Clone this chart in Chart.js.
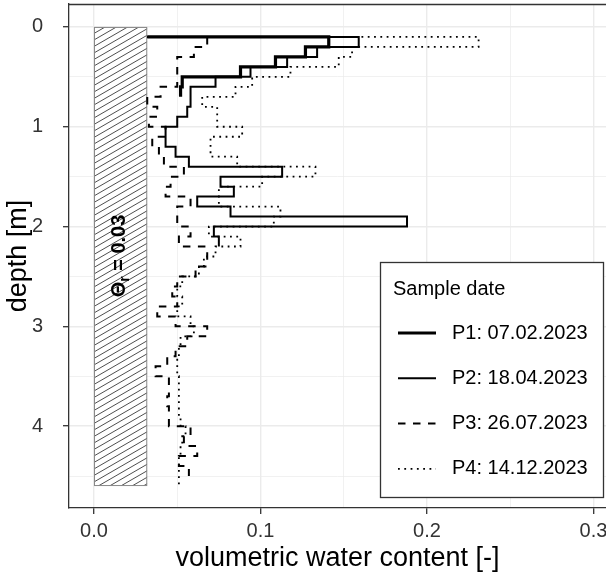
<!DOCTYPE html>
<html>
<head>
<meta charset="utf-8">
<script src="https://cdn.jsdelivr.net/npm/chart.js@4/dist/chart.umd.min.js"></script>
<style>
  html, body { margin: 0; padding: 0; background: #fff; overflow: hidden; }
</style>
</head>
<body>
<canvas id="profileChart" width="606" height="580"></canvas>
<script>
// sample names, legend order
const seriesNames = ['P1: 07.02.2023', 'P2: 18.04.2023', 'P3: 26.07.2023', 'P4: 14.12.2023'];

// every profile starts at 0.1 m, one value per 0.1 m layer
const startDepth = 0.1;
const layerStep = 0.1;

// residual water content (hatched band)
const thetaR = 0.032;
const thetaText = '0.03';
const bandDepth = 4.6;

const p1 = [0.141, 0.127, 0.109, 0.088, 0.053, 0.052];
const p2 = [0.159, 0.134, 0.116, 0.094, 0.073, 0.058, 0.058, 0.056, 0.050, 0.043,
            0.043, 0.049, 0.057, 0.113, 0.076, 0.084, 0.062, 0.082, 0.188, 0.072, 0.075];
const p3 = [0.068, 0.060, 0.050, 0.050, 0.050, 0.040, 0.032, 0.038, 0.033, 0.043,
            0.035, 0.039, 0.042, 0.054, 0.046, 0.043, 0.058, 0.050, 0.050, 0.058,
            0.051, 0.068, 0.068, 0.061, 0.050, 0.047, 0.050, 0.038, 0.049, 0.068,
            0.056, 0.049, 0.044, 0.037, 0.045, 0.045, 0.044, 0.045, 0.045, 0.058,
            0.054, 0.062, 0.051, 0.057];
const p4 = [0.231, 0.155, 0.147, 0.118, 0.095, 0.085, 0.065, 0.074, 0.074, 0.089,
            0.070, 0.070, 0.086, 0.133, 0.101, 0.075, 0.075, 0.112, 0.108, 0.069,
            0.088, 0.073, 0.066, 0.063, 0.053, 0.050, 0.053, 0.050, 0.058, 0.060,
            0.052, 0.051, 0.050, 0.050, 0.051, 0.051, 0.051, 0.051, 0.052, 0.055,
            0.053, 0.052, 0.051, 0.051, 0.051];

const xTicks = [0, 0.05, 0.1, 0.15, 0.2, 0.25, 0.3];
const yTicks = [0, 0.5, 1, 1.5, 2, 2.5, 3, 3.5, 4, 4.5];

const FONT = '"Liberation Sans", Arial, sans-serif';

function profilePoints(values) {
    const pts = [{ x: thetaR, y: startDepth }];
    values.forEach((v, i) => {
        pts.push({ x: v, y: +(startDepth + (i + 1) * layerStep).toFixed(2) });
    });
    return pts;
}

function isMajor(v, step) {
    const r = v / step;
    return Math.abs(r - Math.round(r)) < 1e-6;
}

const styles = [
    { width: 3.2, dash: [] },
    { width: 2, dash: [] },
    { width: 2, dash: [7.5, 7.5] },
    { width: 1.8, dash: [1.8, 4.5] }
];

const bandPlugin = {
    id: 'band',
    beforeDatasetsDraw(chart) {
        const { ctx, scales: { x, y } } = chart;
        const x0 = x.getPixelForValue(0), x1 = x.getPixelForValue(thetaR);
        const y0 = y.getPixelForValue(0), y1 = y.getPixelForValue(bandDepth);
        ctx.save();
        ctx.beginPath();
        ctx.rect(x0, y0, x1 - x0, y1 - y0);
        ctx.clip();
        ctx.fillStyle = '#fff';
        ctx.fillRect(x0, y0, x1 - x0, y1 - y0);
        ctx.strokeStyle = '#3a3a3a';
        ctx.lineWidth = 0.9;
        const rise = (x1 - x0) * Math.tan(Math.PI / 6);
        for (let b = y0; b < y1 + rise; b += 6.5) {
            ctx.beginPath();
            ctx.moveTo(x0, b);
            ctx.lineTo(x1, b - rise);
            ctx.stroke();
        }
        ctx.restore();

        ctx.save();
        ctx.strokeStyle = '#888';
        ctx.lineWidth = 1;
        ctx.strokeRect(x0 + 0.5, y0 + 0.5, x1 - x0 - 1, y1 - y0 - 1);

        // rotated label
        ctx.translate((x0 + x1) / 2 - 1, 256);
        ctx.rotate(-Math.PI / 2);
        ctx.fillStyle = '#000';
        ctx.textBaseline = 'middle';
        const big = 'bold 20px ' + FONT, small = 'bold 14px ' + FONT;
        ctx.font = big;
        const wT = ctx.measureText('\u0398').width;
        const wRest = ctx.measureText(' = ' + thetaText).width;
        ctx.font = small;
        const wR = ctx.measureText('r').width;
        let cx = -(wT + wR + wRest) / 2;
        ctx.font = big;
        ctx.fillText('\u0398', cx, 0);
        cx += wT;
        ctx.font = small;
        ctx.fillText('r', cx, 6);
        cx += wR;
        ctx.font = big;
        ctx.fillText(' = ' + thetaText, cx, 0);
        ctx.restore();
    },
    afterDatasetsDraw(chart) {
        const { ctx, chartArea } = chart;
        ctx.save();
        ctx.strokeStyle = '#333';
        ctx.lineWidth = 1.3;
        ctx.beginPath();
        ctx.moveTo(chartArea.left, chartArea.top + 0.5);
        ctx.lineTo(chartArea.right, chartArea.top + 0.5);
        ctx.stroke();
        ctx.restore();
    },
    afterDraw(chart) {
        const ctx = chart.ctx;
        const box = { left: 380, top: 262, right: 604, bottom: 498 };
        ctx.save();
        ctx.fillStyle = '#fff';
        ctx.fillRect(box.left, box.top, box.right - box.left, box.bottom - box.top);
        ctx.strokeStyle = '#333';
        ctx.lineWidth = 1.3;
        ctx.strokeRect(box.left + 0.5, box.top + 0.5, box.right - box.left - 1, box.bottom - box.top - 1);
        ctx.fillStyle = '#000';
        ctx.textBaseline = 'middle';
        ctx.font = '20px ' + FONT;
        ctx.fillText('Sample date', 393, 289);
        seriesNames.forEach((name, i) => {
            const yy = 333 + i * 45.3;
            ctx.strokeStyle = '#000';
            ctx.lineWidth = styles[i].width;
            ctx.setLineDash(styles[i].dash);
            ctx.lineCap = 'butt';
            ctx.beginPath();
            ctx.moveTo(398, yy);
            ctx.lineTo(436, yy);
            ctx.stroke();
            ctx.setLineDash([]);
            ctx.fillText(name, 452, yy);
        });
        ctx.restore();
    }
};

const profiles = [p1, p2, p3, p4];

new Chart(document.getElementById('profileChart'), {
    type: 'scatter',
    data: {
        datasets: profiles.map((vals, i) => ({
            label: seriesNames[i],
            data: profilePoints(vals),
            showLine: true,
            stepped: 'before',
            borderColor: '#000',
            borderWidth: styles[i].width,
            borderDash: styles[i].dash,
            borderCapStyle: 'butt',
            borderJoinStyle: 'miter',
            pointRadius: 0,
            pointHoverRadius: 0,
            fill: false
        }))
    },
    options: {
        responsive: false,
        animation: false,
        layout: { padding: { top: 4, left: 0, right: 0, bottom: 0 } },
        plugins: {
            legend: { display: false },
            tooltip: { enabled: false }
        },
        scales: {
            x: {
                type: 'linear',
                min: -0.015,
                max: 0.3075,
                afterBuildTicks: s => { s.ticks = xTicks.map(v => ({ value: v })); },
                afterFit: s => { s.height = 72; s.paddingLeft = 0; s.paddingRight = 0; },
                ticks: {
                    autoSkip: false,
                    maxRotation: 0,
                    padding: 5,
                    color: '#333',
                    font: { family: FONT, size: 20 },
                    callback: v => isMajor(v, 0.1) ? v.toFixed(1) : ''
                },
                grid: {
                    color: '#ebebeb',
                    lineWidth: c => isMajor(c.tick.value, 0.1) ? 1.4 : 0.7,
                    tickLength: 6,
                    tickWidth: 1.3,
                    tickColor: c => isMajor(c.tick.value, 0.1) ? '#333' : 'rgba(0,0,0,0)'
                },
                border: { display: true, color: '#333', width: 1.3 },
                title: {
                    display: true,
                    text: 'volumetric water content [-]',
                    color: '#000',
                    font: { family: FONT, size: 27 },
                    padding: { top: 0, bottom: 5 }
                }
            },
            y: {
                type: 'linear',
                reverse: true,
                min: -0.23,
                max: 4.82,
                afterBuildTicks: s => { s.ticks = yTicks.map(v => ({ value: v })); },
                afterFit: s => { s.width = 69; s.paddingTop = 0; s.paddingBottom = 0; },
                ticks: {
                    autoSkip: false,
                    padding: 20,
                    color: '#333',
                    font: { family: FONT, size: 20 },
                    callback: v => isMajor(v, 1) ? String(Math.round(v)) : ''
                },
                grid: {
                    color: '#ebebeb',
                    lineWidth: c => isMajor(c.tick.value, 1) ? 1.4 : 0.7,
                    tickLength: 6,
                    tickWidth: 1.3,
                    tickColor: c => isMajor(c.tick.value, 1) ? '#333' : 'rgba(0,0,0,0)'
                },
                border: { display: true, color: '#333', width: 1.3 },
                title: {
                    display: true,
                    text: 'depth [m]',
                    color: '#000',
                    font: { family: FONT, size: 27 },
                    padding: { top: 2, bottom: 0 }
                }
            }
        }
    },
    plugins: [bandPlugin]
});
</script>
</body>
</html>
